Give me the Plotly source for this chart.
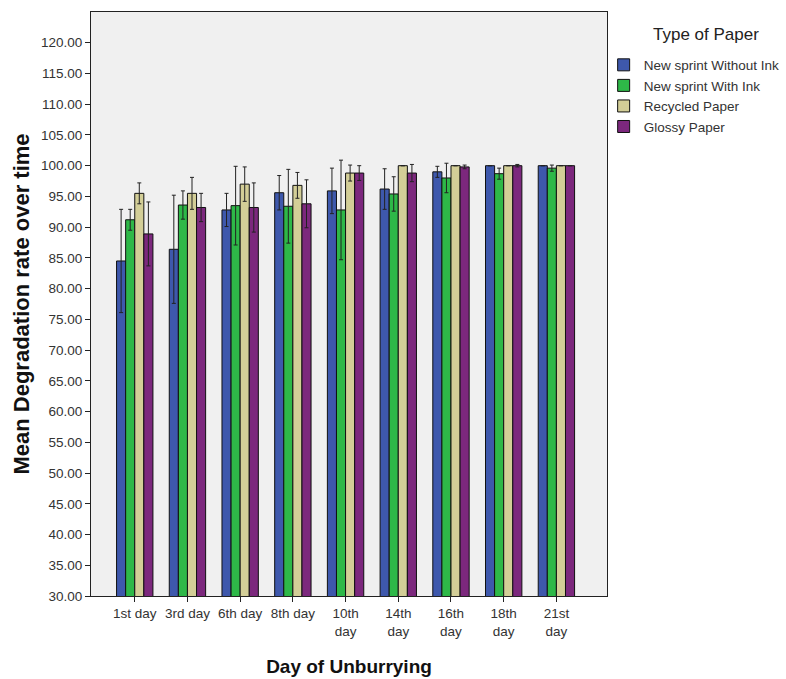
import plotly.graph_objects as go

days = ["1st day", "3rd day", "6th day", "8th day", "10th<br>day", "14th<br>day",
        "16th<br>day", "18th<br>day", "21st<br>day"]

series_names = ["New sprint Without Ink", "New sprint With Ink", "Recycled Paper", "Glossy Paper"]
colors = ["#3E58AC", "#2EB848", "#D3CE97", "#7C287D"]

without_ink = [84.5, 86.4, 92.8, 95.6, 95.9, 96.2, 99.0, 100.0, 100.0]
without_ink_err = [8.4, 8.8, 2.7, 2.8, 3.7, 3.3, 0.9, 0.0, 0.0]

with_ink = [91.2, 93.6, 93.5, 93.4, 92.8, 95.4, 98.0, 98.7, 99.6]
with_ink_err = [1.7, 2.3, 6.4, 6.0, 8.1, 2.8, 2.4, 0.9, 0.5]

recycled = [95.5, 95.5, 97.0, 96.8, 98.8, 100.0, 100.0, 100.0, 100.0]
recycled_err = [1.7, 2.6, 2.8, 2.1, 1.3, 0.0, 0.0, 0.0, 0.0]

glossy = [88.9, 93.2, 93.2, 93.8, 98.8, 98.8, 99.8, 100.0, 100.0]
glossy_err = [5.2, 2.3, 4.0, 3.9, 1.2, 1.4, 0.3, 0.2, 0.0]

values = [without_ink, with_ink, recycled, glossy]
errors = [without_ink_err, with_ink_err, recycled_err, glossy_err]

yticks = [30 + 5 * i for i in range(19)]

fig = go.Figure()
for name, col, v, e in zip(series_names, colors, values, errors):
    fig.add_trace(go.Bar(
        x=days, y=v, name=name,
        marker=dict(color=col, line=dict(color="#111111", width=1)),
        error_y=dict(type="data", array=e, visible=True, color="#222222",
                     thickness=1, width=2),
    ))

fig.update_layout(
    width=786, height=679,
    barmode="group", bargap=0.31, bargroupgap=0,
    paper_bgcolor="white", plot_bgcolor="#F0F0F0",
    margin=dict(l=91, r=179, t=12, b=83, autoexpand=False),
    font=dict(family="Liberation Sans, Arial, sans-serif", size=13, color="#333333"),
    showlegend=True,
    legend=dict(
        xref="container", yref="container",
        x=0.768, y=0.927, xanchor="left", yanchor="top",
        font=dict(size=13.5, color="#333333"),
        tracegroupgap=0, itemwidth=30,
        bgcolor="rgba(0,0,0,0)",
    ),
    annotations=[dict(
        text="Type of Paper", xref="paper", yref="paper",
        x=(706 - 91) / 516, y=(596 - 35) / 584, xanchor="center", yanchor="middle",
        showarrow=False, font=dict(size=17, color="#222222"),
    )],
    xaxis=dict(
        type="category", range=[-0.83, 8.96], automargin=False,
        showline=True, linecolor="#222222", linewidth=1, mirror=True,
        ticks="outside", ticklen=5, tickcolor="#222222",
        showgrid=False, zeroline=False,
        tickfont=dict(size=13.5, color="#333333"),
        title=dict(text="<b>Day of Unburrying</b>", font=dict(size=19, color="#111111"), standoff=21),
    ),
    yaxis=dict(
        range=[30, 125], automargin=False,
        tickvals=yticks, ticktext=[f"{t:.2f}" for t in yticks],
        showline=True, linecolor="#222222", linewidth=1, mirror=True,
        ticks="outside", ticklen=5, tickcolor="#222222",
        showgrid=False, zeroline=False,
        tickfont=dict(size=13.5, color="#333333"),
        title=dict(text="<b>Mean Degradation rate over time</b>", font=dict(size=22, color="#111111"), standoff=5),
    ),
)

fig.write_html("out.html", config={"displayModeBar": False},
               post_script="document.body.style.margin='0';")
